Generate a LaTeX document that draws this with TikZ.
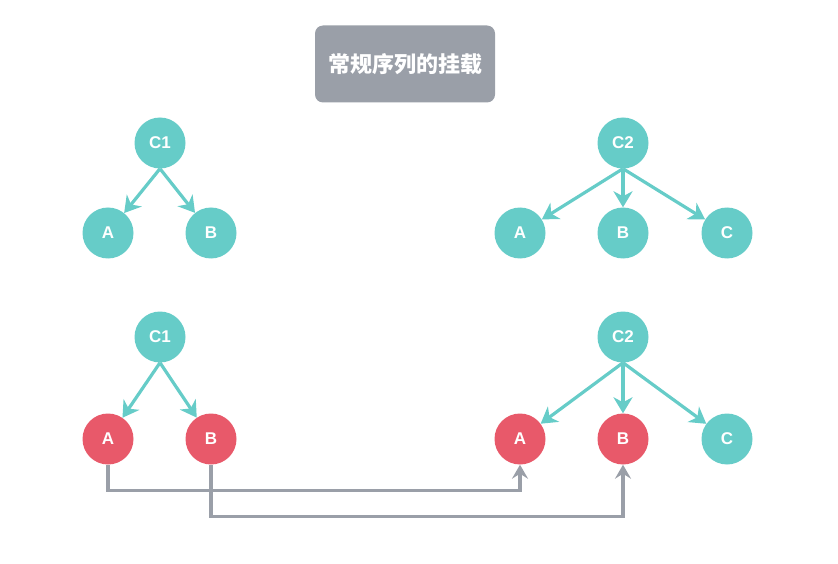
\documentclass[tikz,border=0pt]{standalone}
\usepackage{fontspec}
\setmainfont{Liberation Sans}
\newfontfamily\cjk{Noto Sans CJK SC}
\usetikzlibrary{arrows.meta}
\definecolor{teal1}{HTML}{66CCC8}
\definecolor{red1}{HTML}{E8596A}
\definecolor{gray1}{HTML}{9A9FA8}
\tikzset{
  item/.style={circle, fill=teal1, minimum size=51pt, inner sep=0pt, text=white,
    font=\fontsize{17}{17}\selectfont\bfseries},
  moved/.style={item, fill=red1},
  edge/.style={draw=teal1, line width=3.2pt, -{Stealth[length=16pt, width=19pt, inset=5pt]}},
  link/.style={draw=gray1, line width=3.2pt, -{Stealth[length=14pt, width=16pt, inset=5pt]}}
}
\begin{document}
\begin{tikzpicture}[x=1pt, y=-1pt]
\useasboundingbox (0,0) rectangle (838,564);

% title
\node[fill=gray1, rounded corners=8pt, minimum width=180pt, minimum height=77pt, text=white,
  font=\cjk\fontsize{22}{22}\selectfont\bfseries] (title) at (405,64) {常规序列的挂载};

% regular mount, before
\node[item] (c1) at (160,143) {C1};
\node[item] (a1) at (108,233) {A};
\node[item] (b1) at (211,233) {B};
\node[item] (c2) at (623,143) {C2};
\node[item] (a2) at (520,233) {A};
\node[item] (b2) at (623,233) {B};
\node[item] (x2) at (727,233) {C};
\draw[edge] (c1.south) -- (a1);
\draw[edge] (c1.south) -- (b1);
\draw[edge] (c2.south) -- (a2);
\draw[edge] (c2.south) -- (b2.north);
\draw[edge] (c2.south) -- (x2);

% regular mount, after
\node[item] (c3) at (160,337) {C1};
\node[moved] (a3) at (108,439) {A};
\node[moved] (b3) at (211,439) {B};
\node[item] (c4) at (623,337) {C2};
\node[moved] (a4) at (520,439) {A};
\node[moved] (b4) at (623,439) {B};
\node[item] (x4) at (727,439) {C};
\draw[edge] (c3.south) -- (a3);
\draw[edge] (c3.south) -- (b3);
\draw[edge] (c4.south) -- (a4);
\draw[edge] (c4.south) -- (b4.north);
\draw[edge] (c4.south) -- (x4);

% moves
\draw[link] (a3.south) -- ++(0,26) -| (a4.south);
\draw[link] (b3.south) -- ++(0,52) -| (b4.south);
\end{tikzpicture}
\end{document}
